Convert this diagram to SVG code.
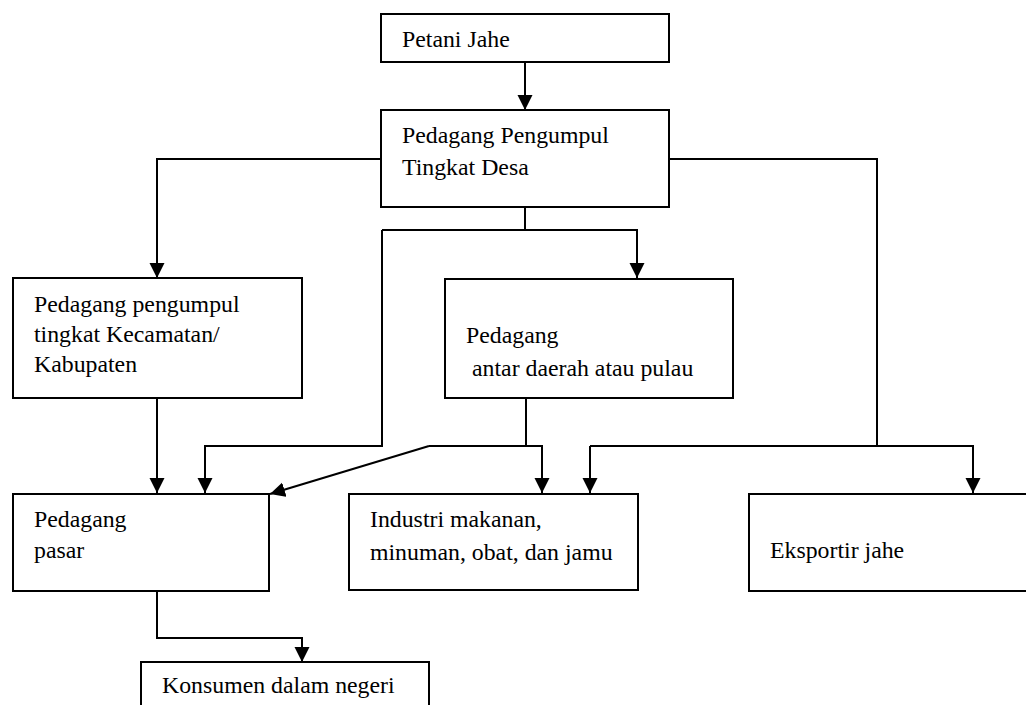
<svg xmlns="http://www.w3.org/2000/svg" width="1026" height="705" viewBox="0 0 1026 705">
<style>
.box{fill:#fff;stroke:#000;stroke-width:2}
.c{fill:none;stroke:#000;stroke-width:2}
.t{font-family:'Liberation Serif',serif;font-size:23.8px;fill:#000}
</style>
<defs>
<marker id="ah" markerUnits="userSpaceOnUse" markerWidth="16" markerHeight="16" refX="15" refY="7.5" orient="auto" viewBox="0 0 16 16">
<path d="M0,0 L15,7.5 L0,15 z" fill="#000"/>
</marker>
</defs>
<rect width="1026" height="705" fill="#fff"/>
<g id="connectors">
<path class="c" d="M525,62 V110" marker-end="url(#ah)"/>
<path class="c" d="M381,159 H157 V278" marker-end="url(#ah)"/>
<path class="c" d="M525,207 V230"/>
<path class="c" d="M382,230 H637 V278" marker-end="url(#ah)"/>
<path class="c" d="M382,230 V446 H205 V493" marker-end="url(#ah)"/>
<path class="c" d="M157,398 V493" marker-end="url(#ah)"/>
<path class="c" d="M526,398 V446"/>
<path class="c" d="M429,446 H542 V493" marker-end="url(#ah)"/>
<path class="c" d="M429,446 L270,494" marker-end="url(#ah)"/>
<path class="c" d="M669,159 H877 V446"/>
<path class="c" d="M590,446 H973 V493" marker-end="url(#ah)"/>
<path class="c" d="M590,446 V493" marker-end="url(#ah)"/>
<path class="c" d="M157,591 V638 H302 V662" marker-end="url(#ah)"/>
</g>
<g id="petani">
<rect class="box" x="381" y="14" width="288" height="48"/>
<text class="t" x="402" y="47">Petani Jahe</text>
</g>
<g id="pengumpul-desa">
<rect class="box" x="381" y="110" width="288" height="97"/>
<text class="t" x="402" y="143">Pedagang Pengumpul</text>
<text class="t" x="402" y="175">Tingkat Desa</text>
</g>
<g id="pengumpul-kecamatan">
<rect class="box" x="13" y="278" width="289" height="120"/>
<text class="t" x="34" y="312">Pedagang pengumpul</text>
<text class="t" x="34" y="342">tingkat Kecamatan/</text>
<text class="t" x="34" y="372">Kabupaten</text>
</g>
<g id="antar-daerah">
<rect class="box" x="445" y="279" width="288" height="119"/>
<text class="t" x="466" y="343">Pedagang</text>
<text class="t" x="472" y="376">antar daerah atau pulau</text>
</g>
<g id="pedagang-pasar">
<rect class="box" x="13" y="494" width="256" height="97"/>
<text class="t" x="34" y="527">Pedagang</text>
<text class="t" x="34" y="558">pasar</text>
</g>
<g id="industri">
<rect class="box" x="349" y="494" width="289" height="96"/>
<text class="t" x="370" y="527">Industri makanan,</text>
<text class="t" x="370" y="560">minuman, obat, dan jamu</text>
</g>
<g id="eksportir">
<rect class="box" x="749" y="494" width="290" height="97"/>
<text class="t" x="770" y="558">Eksportir jahe</text>
</g>
<g id="konsumen">
<rect class="box" x="141" y="662" width="288" height="60"/>
<text class="t" x="162" y="693">Konsumen dalam negeri</text>
</g>
</svg>
